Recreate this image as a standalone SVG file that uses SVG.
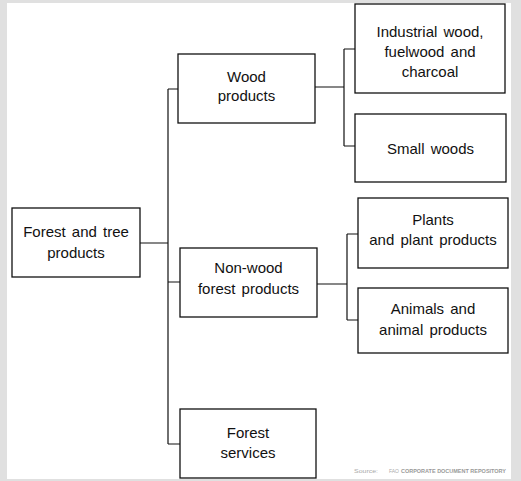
<svg xmlns="http://www.w3.org/2000/svg" width="521" height="481" viewBox="0 0 521 481">
<style>
.box{fill:#fff;stroke:#111;stroke-width:1.3}
.t{font-family:"Liberation Sans",Arial,sans-serif;font-size:15px;fill:#111;text-anchor:middle;word-spacing:2px}
.c{fill:none;stroke:#111;stroke-width:1.2}
.src{font-family:"Liberation Sans",Arial,sans-serif;font-size:6px;fill:#aaa}
</style>
<rect x="0" y="0" width="521" height="481" fill="#e0e0e0"/>
<rect x="7" y="3" width="504" height="476" fill="#fff"/>
<g id="connectors">
<path class="c" d="M140 243H168M168 89V444M168 89H178M168 282H180M168 444H180"/>
<path class="c" d="M315 87H344M344 49V146M344 49H355M344 146H355"/>
<path class="c" d="M317 284H347M347 234V320M347 234H358M347 320H358"/>
</g>
<g id="forest-tree-products">
<rect class="box" x="12" y="208" width="128" height="69"/>
<text class="t" x="76" y="237">Forest and tree</text>
<text class="t" x="76" y="258">products</text>
</g>
<g id="wood-products">
<rect class="box" x="178" y="54" width="137" height="69"/>
<text class="t" x="246.5" y="82">Wood</text>
<text class="t" x="246.5" y="101">products</text>
</g>
<g id="non-wood-forest-products">
<rect class="box" x="180" y="248" width="137" height="69"/>
<text class="t" x="248.5" y="273">Non-wood</text>
<text class="t" x="248.5" y="294">forest products</text>
</g>
<g id="forest-services">
<rect class="box" x="180" y="409" width="136" height="69"/>
<text class="t" x="248" y="438">Forest</text>
<text class="t" x="248" y="458">services</text>
</g>
<g id="industrial-wood">
<rect class="box" x="355" y="4" width="150" height="89"/>
<text class="t" x="430" y="37">Industrial wood,</text>
<text class="t" x="430" y="57">fuelwood and</text>
<text class="t" x="430" y="77">charcoal</text>
</g>
<g id="small-woods">
<rect class="box" x="355" y="114" width="151" height="68"/>
<text class="t" x="430.5" y="154">Small woods</text>
</g>
<g id="plants">
<rect class="box" x="358" y="198" width="150" height="70"/>
<text class="t" x="433" y="225">Plants</text>
<text class="t" x="433" y="245">and plant products</text>
</g>
<g id="animals">
<rect class="box" x="358" y="288" width="150" height="65"/>
<text class="t" x="433" y="314">Animals and</text>
<text class="t" x="433" y="335">animal products</text>
</g>
<text class="src" x="354" y="473"><tspan textLength="24" lengthAdjust="spacingAndGlyphs">Source:</tspan><tspan x="389" textLength="10" lengthAdjust="spacingAndGlyphs">FAO</tspan><tspan x="401" font-weight="bold" fill="#999" textLength="105" lengthAdjust="spacingAndGlyphs">CORPORATE DOCUMENT REPOSITORY</tspan></text>
</svg>
